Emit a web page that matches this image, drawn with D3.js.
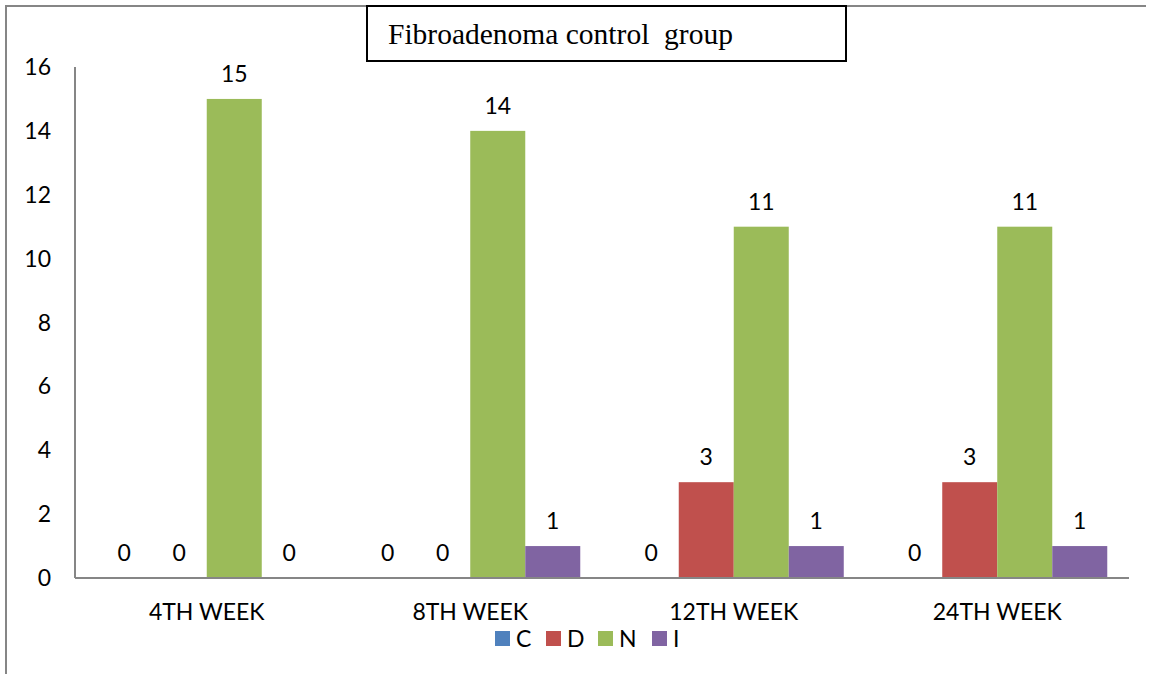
<!DOCTYPE html>
<html>
<head>
<meta charset="utf-8">
<script src="https://cdn.jsdelivr.net/npm/d3@7"></script>
<style>
  body { margin: 0; background: #fff; }
</style>
</head>
<body>
<div id="chart-area"></div>
<script>
// data
var categories = ["4TH WEEK", "8TH WEEK", "12TH WEEK", "24TH WEEK"];
var seriesNames = ["C", "D", "N", "I"];
var valuesC = [0, 0, 0, 0];
var valuesD = [0, 0, 3, 3];
var valuesN = [15, 14, 11, 11];
var valuesI = [0, 1, 1, 1];
var yTicks = [0, 2, 4, 6, 8, 10, 12, 14, 16];
var colors = ["#4f81bd", "#c0504d", "#9bbb59", "#8064a2"];

var seriesValues = [valuesC, valuesD, valuesN, valuesI];

var sans = "Lato, 'Open Sans', sans-serif";
var fs = "23px";

var W = 1155, H = 674;
var margin = { left: 75, right: 26, top: 67, bottom: 96 };
var width = W - margin.left - margin.right;
var height = H - margin.top - margin.bottom;

var svg = d3.select("#chart-area")
  .append("svg")
  .attr("width", W)
  .attr("height", H);

// outer frame (left + top only)
svg.append("path")
  .attr("d", "M6," + H + "V6H1146")
  .attr("fill", "none")
  .attr("stroke", "#868686")
  .attr("stroke-width", 2);

var g = svg.append("g")
  .attr("transform", "translate(" + margin.left + "," + margin.top + ")");

// scales
var x0 = d3.scaleBand()
  .domain(categories)
  .range([0, width]);

var inner = x0.bandwidth() * 0.0825;
var x1 = d3.scaleBand()
  .domain(seriesNames)
  .range([inner, x0.bandwidth() - inner]);

var y = d3.scaleLinear()
  .domain([0, 16])
  .range([height, 0]);

// y labels
g.selectAll(".ytick")
  .data(yTicks)
  .enter()
  .append("text")
  .attr("class", "ytick")
  .attr("x", -24)
  .attr("y", function(d) { return y(d); })
  .attr("dy", "0.35em")
  .attr("text-anchor", "end")
  .attr("font-family", sans)
  .attr("font-size", fs)
  .attr("fill", "#000")
  .text(function(d) { return d; });

// bars
var groups = g.selectAll(".group")
  .data(categories)
  .enter()
  .append("g")
  .attr("class", "group")
  .attr("transform", function(d) { return "translate(" + x0(d) + ",0)"; });

groups.each(function(cat, ci) {
  var rows = seriesNames.map(function(s, si) {
    return { key: s, value: seriesValues[si][ci], color: colors[si] };
  });
  var grp = d3.select(this);

  grp.selectAll("rect")
    .data(rows)
    .enter()
    .append("rect")
    .attr("x", function(d) { return x1(d.key); })
    .attr("y", function(d) { return y(d.value); })
    .attr("width", x1.bandwidth())
    .attr("height", function(d) { return height - y(d.value); })
    .attr("fill", function(d) { return d.color; });

  grp.selectAll("text")
    .data(rows)
    .enter()
    .append("text")
    .attr("x", function(d) { return x1(d.key) + x1.bandwidth() / 2; })
    .attr("y", function(d) { return y(d.value) - 25; })
    .attr("dy", "0.35em")
    .attr("text-anchor", "middle")
    .attr("font-family", sans)
    .attr("font-size", fs)
    .attr("fill", "#000")
    .text(function(d) { return d.value; });
});

// axes lines
g.append("line")
  .attr("x1", 0).attr("x2", 0)
  .attr("y1", 0).attr("y2", height)
  .attr("stroke", "#868686")
  .attr("stroke-width", 2);

g.append("line")
  .attr("x1", 0).attr("x2", width)
  .attr("y1", height).attr("y2", height)
  .attr("stroke", "#868686")
  .attr("stroke-width", 2);

// category labels
g.selectAll(".xlabel")
  .data(categories)
  .enter()
  .append("text")
  .attr("class", "xlabel")
  .attr("x", function(d) { return x0(d) + x0.bandwidth() / 2; })
  .attr("y", height + 34)
  .attr("dy", "0.35em")
  .attr("text-anchor", "middle")
  .attr("font-family", sans)
  .attr("font-size", fs)
  .attr("fill", "#000")
  .text(function(d) { return d; });

// legend
var legendX = [495, 546, 598, 652];
var legend = svg.selectAll(".legend")
  .data(seriesNames)
  .enter()
  .append("g")
  .attr("class", "legend")
  .attr("transform", function(d, i) { return "translate(" + legendX[i] + ",631)"; });

legend.append("rect")
  .attr("width", 15)
  .attr("height", 15)
  .attr("fill", function(d, i) { return colors[i]; });

legend.append("text")
  .attr("x", 21)
  .attr("y", 8)
  .attr("dy", "0.35em")
  .attr("font-family", sans)
  .attr("font-size", fs)
  .attr("fill", "#000")
  .text(function(d) { return d; });

// title box
svg.append("rect")
  .attr("x", 367)
  .attr("y", 6)
  .attr("width", 479)
  .attr("height", 55)
  .attr("fill", "#fff")
  .attr("stroke", "#000")
  .attr("stroke-width", 2);

svg.append("text")
  .attr("x", 388)
  .attr("y", 44)
  .attr("font-family", "'Liberation Serif', 'Times New Roman', serif")
  .attr("font-size", "29.5px")
  .attr("fill", "#000")
  .style("white-space", "pre")
  .text("Fibroadenoma control  group");
</script>
</body>
</html>
